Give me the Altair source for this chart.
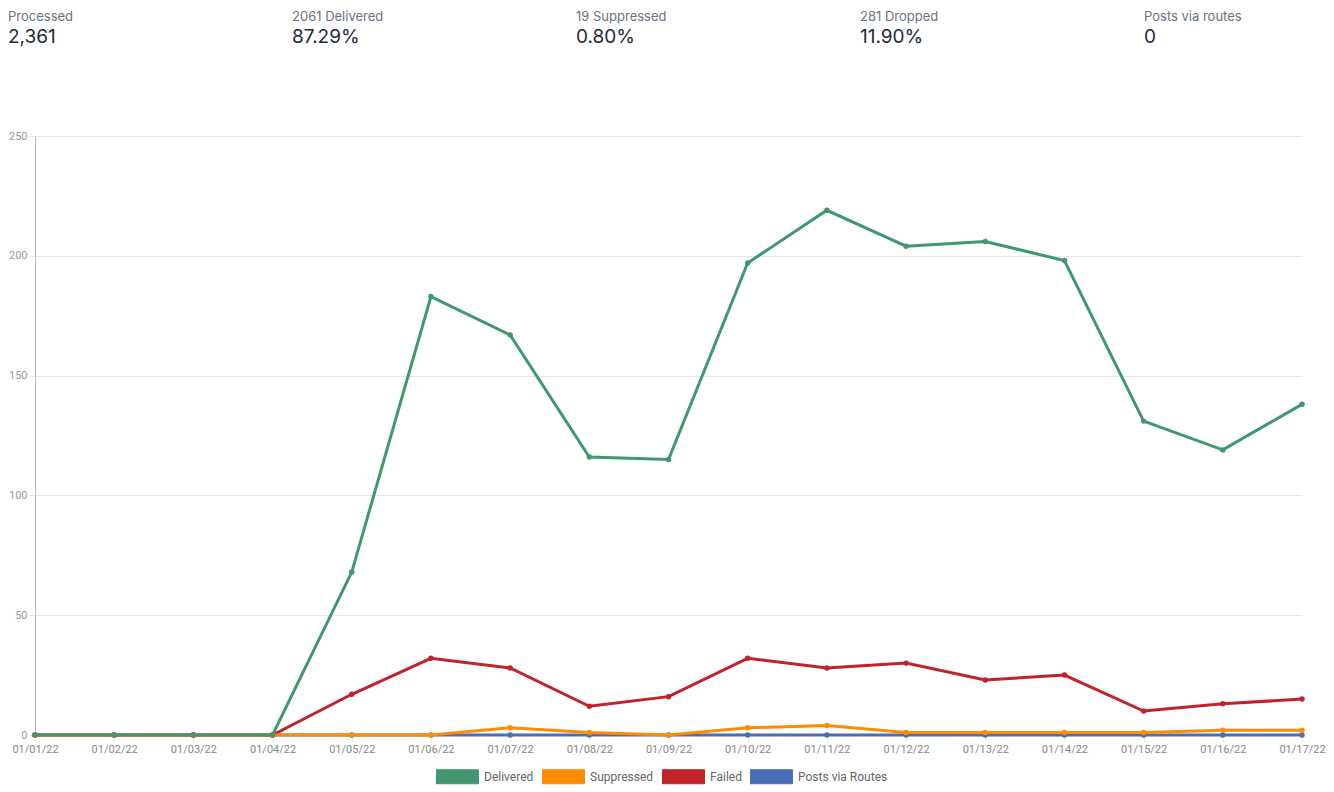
import altair as alt
import pandas as pd

dates = ["01/01/22", "01/02/22", "01/03/22", "01/04/22", "01/05/22", "01/06/22",
         "01/07/22", "01/08/22", "01/09/22", "01/10/22", "01/11/22", "01/12/22",
         "01/13/22", "01/14/22", "01/15/22", "01/16/22", "01/17/22"]
delivered = [0, 0, 0, 0, 68, 183, 167, 116, 115, 197, 219, 204, 206, 198, 131, 119, 138]
suppressed = [0, 0, 0, 0, 0, 0, 3, 1, 0, 3, 4, 1, 1, 1, 1, 2, 2]
failed = [0, 0, 0, 0, 17, 32, 28, 12, 16, 32, 28, 30, 23, 25, 10, 13, 15]
routes = [0] * 17

series_names = ["Delivered", "Suppressed", "Failed", "Posts via Routes"]
series_colors = ["#41976e", "#ff8b00", "#c1232b", "#4b6cb7"]

header_labels = ["Processed", "2061 Delivered", "19 Suppressed", "281 Dropped", "Posts via routes"]
header_values = ["2,361", "87.29%", "0.80%", "11.90%", "0"]

rows = []
for name, vals in zip(series_names, [delivered, suppressed, failed, routes]):
    for d, v in zip(dates, vals):
        rows.append({"date": d, "series": name, "value": v})
df = pd.DataFrame(rows)

FONT = "Roboto"

scale = alt.Scale(domain=series_names, range=series_colors)
legend = alt.Legend(
    title=None, orient="none", direction="horizontal", legendX=415, legendY=633,
    symbolType="M-3,-1 L3,-1 L3,1 L-3,1 Z",
    symbolSize=196, symbolStrokeWidth=1, symbolOpacity=1,
    labelFont=FONT, labelFontSize=12, labelColor="#666666",
    columnPadding=6, labelOffset=19,
)
color_nolegend = alt.Color("series:N", scale=scale, legend=None)
color_legend = alt.Color("series:N", scale=scale, legend=legend)

x = alt.X("date:O", sort=dates, scale=alt.Scale(type="point", padding=0),
          axis=alt.Axis(title=None, labelAngle=0, labelFont=FONT, labelFontSize=11,
                        labelColor="#888888", tickColor="#e5e5e5", tickSize=7,
                        labelPadding=1, gridColor="#e6e6e6", domain=False))
y = alt.Y("value:Q", scale=alt.Scale(domain=[0, 250], nice=False),
          axis=alt.Axis(title=None, values=[0, 50, 100, 150, 200, 250], labelFont=FONT,
                        labelFontSize=11, labelColor="#999999", tickColor="#e0e0e0",
                        tickSize=6, labelPadding=2, gridColor="#e6e6e6",
                        domainColor="#bbbbbb"))

base = alt.Chart(df)
# legend carrier (the legend is taken from this layer)
layers = [base.mark_square(filled=True, size=0).encode(x=x, y=y, color=color_legend)]
for name in ["Posts via Routes", "Failed", "Suppressed", "Delivered"]:
    sub = base.transform_filter(alt.datum.series == name)
    layers.append(sub.mark_line(strokeWidth=3).encode(x=x, y=y, color=color_nolegend))
    layers.append(sub.mark_circle(size=30, opacity=1).encode(x=x, y=y, color=color_nolegend))

hdr = pd.DataFrame({"label": header_labels, "value": header_values,
                    "col": list(range(5))})
xs = [-27, 257, 541, 825, 1109]
for i in range(5):
    h = alt.Chart(hdr).transform_filter(alt.datum.col == i)
    layers.append(h.mark_text(align="left", baseline="middle", font="Inter", fontSize=13,
                              color="#6b7280").encode(text="label:N", x=alt.value(xs[i]), y=alt.value(-119)))
    layers.append(h.mark_text(align="left", baseline="middle", font="Inter", fontSize=19,
                              color="#1e2939").encode(text="value:N", x=alt.value(xs[i]), y=alt.value(-99)))

chart = alt.layer(*layers).properties(
    width=1267, height=599,
    padding={"left": 0, "top": 3, "right": 0, "bottom": 0},
).configure_view(stroke=None)

chart.save("out.html", embed_options={"renderer": "svg", "actions": False})
